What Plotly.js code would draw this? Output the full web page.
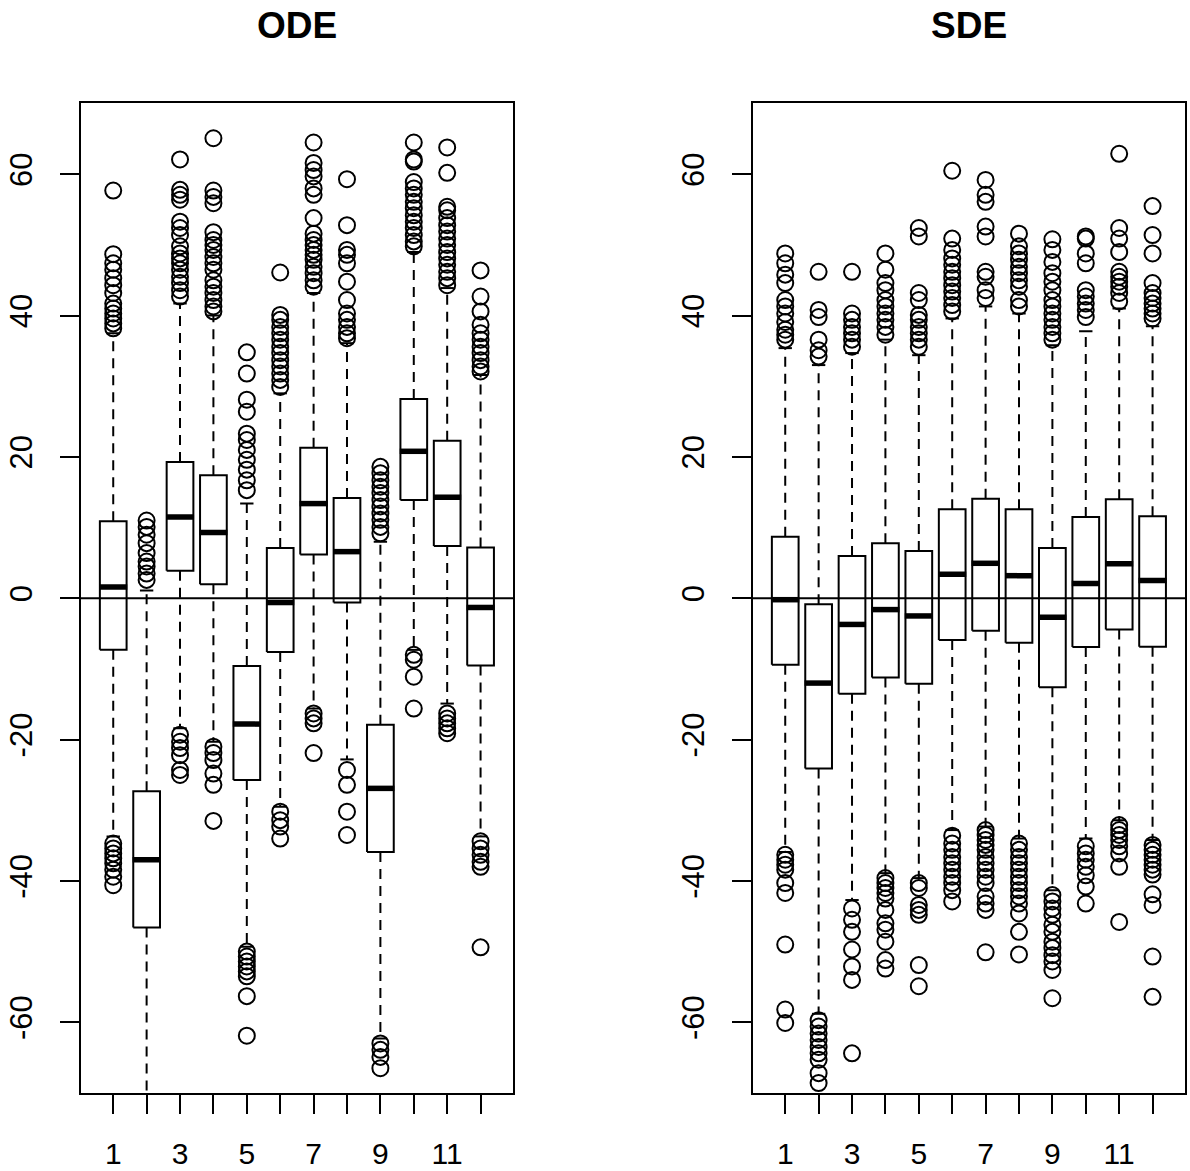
<!DOCTYPE html>
<html>
<head>
<meta charset="utf-8">
<script src="https://cdn.plot.ly/plotly-3.0.1.min.js"></script>
<style>html,body{margin:0;padding:0;background:#fff;}#chart{width:1190px;height:1171px;}</style>
</head>
<body>
<div id="chart"></div>
<script>
// ---------- DATA ----------
const categories = [1,2,3,4,5,6,7,8,9,10,11,12];
const xTickLabels = ["1","","3","","5","","7","","9","","11",""];
const yTickValues = [-60,-40,-20,0,20,40,60];
const panelTitles = ["ODE","SDE"];

// ODE panel
const odeQ1  = [-7.3, -46.6,  3.9,  2.0, -25.7, -7.6,  6.2, -0.6, -35.9, 13.9,  7.4, -9.5];
const odeMed = [ 1.6, -37.0, 11.5,  9.3, -17.8, -0.6, 13.4,  6.6, -26.9, 20.8, 14.3, -1.3];
const odeQ3  = [10.9, -27.3, 19.3, 17.4,  -9.6,  7.1, 21.3, 14.2, -17.9, 28.2, 22.3,  7.2];
const odeLo  = [-33.7, -75.0, -18.4, -20.3, -49.3, -29.5, -15.6, -22.8, -62.3, -7.3, -14.9, -33.7];
const odeHi  = [37.5,  1.1, 41.7, 40.0, 13.4, 29.0, 43.2, 36.1,  8.0, 49.0, 43.9, 31.6];
const odeOut = [
  [38.2,38.9,39.6,40.3,41.0,41.7,43.2,44.3,45.3,46.5,47.4,48.7,57.7,-34.7,-35.4,-36.1,-36.8,-37.5,-38.4,-39.4,-40.6],
  [2.6,3.5,4.5,5.2,6.4,7.8,9.0,10.1,11.0],
  [42.7,43.6,44.6,45.5,46.5,47.4,48.1,48.8,49.8,51.4,52.4,53.3,56.4,57.1,57.8,62.1,-19.3,-20.3,-21.2,-22.2,-24.3,-25.0],
  [40.6,41.3,42.2,43.2,44.1,45.0,46.5,47.4,48.3,49.3,50.0,50.7,51.8,55.9,56.8,57.7,65.1,-21.0,-21.9,-22.9,-24.8,-26.4,-31.5],
  [15.3,16.7,18.2,19.6,21.0,22.4,23.3,26.4,28.1,31.8,34.8,-50.0,-50.7,-51.4,-52.1,-52.8,-53.5,-56.3,-61.9],
  [29.9,30.9,31.8,32.8,33.7,34.7,35.6,36.6,37.5,38.4,39.4,40.1,46.1,-30.2,-31.4,-32.3,-34.0],
  [44.1,45.0,46.0,46.9,47.9,48.6,49.3,50.0,50.7,51.6,53.8,57.1,58.0,59.7,60.6,61.6,64.5,-16.3,-17.0,-17.7,-21.9],
  [36.8,37.5,38.4,39.4,40.3,42.2,44.8,47.4,48.6,49.3,52.8,59.3,-24.3,-26.4,-30.2,-33.5],
  [9.2,10.1,11.1,12.0,13.0,13.9,14.9,15.8,16.7,17.7,18.6,-63.0,-63.9,-64.9,-66.5],
  [49.8,50.5,51.4,52.4,53.3,54.2,55.2,56.1,57.1,58.0,58.9,61.8,62.1,64.5,-8.0,-8.7,-11.1,-15.6],
  [44.3,45.3,46.2,47.2,48.1,49.0,50.0,50.9,51.9,52.8,53.8,54.9,55.4,60.2,63.8,-16.3,-17.0,-17.7,-18.4,-19.1],
  [32.1,32.8,33.7,34.7,35.6,36.6,37.5,38.7,40.6,42.7,46.4,-34.4,-35.4,-36.3,-37.3,-38.0,-49.4]
];

// SDE panel
const sdeQ1  = [-9.4, -24.1, -13.5, -11.2, -12.1, -5.9, -4.6, -6.3, -12.6, -6.9, -4.4, -6.85];
const sdeMed = [-0.2, -12.0,  -3.7,  -1.6,  -2.5,  3.4,  4.95, 3.2,  -2.7,  2.1,  4.9,  2.5];
const sdeQ3  = [ 8.7,  -0.85,  6.0,   7.8,   6.7, 12.6, 14.1, 12.6,   7.1, 11.5, 14.0, 11.6];
const sdeLo  = [-35.9, -58.8, -42.7, -38.9, -39.6, -32.8, -32.3, -34.0, -41.3, -34.0, -31.4, -34.2];
const sdeHi  = [35.4, 33.0, 34.7, 36.6, 34.4, 39.6, 41.3, 40.3, 35.8, 37.8, 41.0, 38.5];
const sdeOut = [
  [36.6,37.3,38.0,39.1,40.3,41.3,42.2,44.6,45.8,47.4,48.8,-36.3,-37.0,-37.7,-38.4,-40.3,-41.7,-49.0,-58.2,-60.1],
  [34.2,35.1,36.6,39.8,40.8,46.2,-59.7,-60.6,-61.6,-62.5,-63.5,-64.4,-65.3,-67.2,-68.6],
  [35.6,36.6,37.5,38.4,39.4,40.3,46.2,-43.9,-45.5,-47.2,-49.7,-52.1,-54.0,-64.4],
  [37.3,38.4,39.4,40.3,41.3,42.2,43.6,44.6,46.5,48.8,-39.6,-40.3,-41.0,-41.7,-42.5,-44.1,-46.0,-46.9,-48.6,-51.2,-52.4],
  [35.6,36.6,37.5,38.4,39.4,40.1,42.2,43.2,51.2,52.4,-40.3,-41.0,-43.4,-44.1,-44.8,-51.9,-54.9],
  [40.6,41.5,42.5,43.4,44.3,45.3,46.2,47.2,48.1,49.3,50.9,60.5,-33.6,-34.7,-35.6,-36.6,-37.5,-38.4,-39.4,-40.3,-41.3,-42.9],
  [42.5,43.6,45.5,46.2,51.2,52.6,56.1,57.1,59.2,-32.8,-33.5,-34.2,-34.9,-35.6,-36.6,-37.5,-38.4,-39.4,-40.3,-42.2,-43.2,-44.1,-50.1],
  [41.3,42.2,44.1,45.0,46.0,46.9,47.9,48.8,49.8,51.6,-34.7,-35.6,-36.6,-37.5,-38.4,-39.4,-40.3,-41.3,-42.2,-43.2,-44.6,-47.2,-50.4],
  [36.6,37.5,38.4,39.4,40.3,41.3,42.2,43.6,44.8,46.0,47.6,49.3,50.8,-42.0,-42.9,-43.9,-44.8,-46.2,-47.2,-48.6,-49.5,-50.5,-51.4,-52.6,-56.6],
  [39.8,40.8,41.7,42.7,43.6,47.4,48.8,50.9,51.2,-35.1,-36.1,-37.0,-38.0,-39.2,-40.8,-43.2],
  [42.0,43.2,44.1,44.8,45.5,46.2,49.0,50.9,52.4,62.9,-32.1,-32.8,-33.5,-34.2,-35.1,-36.1,-38.0,-45.8],
  [39.6,40.3,41.0,41.7,42.5,43.2,44.6,48.8,51.4,55.5,-34.9,-35.6,-36.3,-37.0,-37.7,-38.4,-39.1,-41.9,-43.4,-50.7,-56.4]
];

// ---------- DRAWING ----------
const BOXHALF = 0.4, STAPLEHALF = 0.2;
const FONT = "Liberation Sans, Arial, Helvetica, sans-serif";

function panelTraces(q1, med, q3, lo, hi, out, xa, ya) {
  const bx = [], by = [], wx = [], wy = [], sx = [], sy = [], mx = [], my = [], ox = [], oy = [];
  categories.forEach((c, i) => {
    bx.push(c-BOXHALF, c+BOXHALF, c+BOXHALF, c-BOXHALF, c-BOXHALF, null);
    by.push(q1[i], q1[i], q3[i], q3[i], q1[i], null);
    wx.push(c, c, null, c, c, null);
    wy.push(q3[i], hi[i], null, q1[i], lo[i], null);
    sx.push(c-STAPLEHALF, c+STAPLEHALF, null, c-STAPLEHALF, c+STAPLEHALF, null);
    sy.push(hi[i], hi[i], null, lo[i], lo[i], null);
    mx.push(c-BOXHALF-0.02, c+BOXHALF+0.02, null);
    my.push(med[i], med[i], null);
    out[i].forEach(v => { ox.push(c); oy.push(v); });
  });
  const common = {xaxis: xa, yaxis: ya, hoverinfo: 'skip', showlegend: false};
  return [
    Object.assign({type:'scatter', mode:'lines', x:wx, y:wy, line:{color:'#000', width:2, dash:'10px,7px'}}, common),
    Object.assign({type:'scatter', mode:'lines', x:sx, y:sy, line:{color:'#000', width:2}}, common),
    Object.assign({type:'scatter', mode:'lines', x:bx, y:by, line:{color:'#000', width:2}}, common),
    Object.assign({type:'scatter', mode:'lines', x:mx, y:my, line:{color:'#000', width:5.5}}, common),
    Object.assign({type:'scatter', mode:'markers', x:ox, y:oy,
      marker:{symbol:'circle-open', size:16, color:'#000', line:{color:'#000', width:2}}}, common)
  ];
}

const data = [].concat(
  panelTraces(odeQ1, odeMed, odeQ3, odeLo, odeHi, odeOut, 'x', 'y'),
  panelTraces(sdeQ1, sdeMed, sdeQ3, sdeLo, sdeHi, sdeOut, 'x2', 'y2')
);

const W = 1190, H = 1171;
const yDom = [(H-1093.3)/H, (H-102.7)/H];
function xAxis(dom, anchor) {
  return {domain: dom, anchor: anchor, range: [0.02, 12.98], tickmode: 'array',
    tickvals: categories, ticktext: xTickLabels, ticks: 'outside', ticklen: 19, tickwidth: 2,
    tickcolor: '#000', showline: true, linecolor: '#000', linewidth: 2, mirror: true,
    showgrid: false, zeroline: false, tickfont: {family: FONT, size: 30, color: '#000'},
    ticklabelstandoff: 14, fixedrange: true};
}
function yAxis(anchor) {
  return {domain: yDom, anchor: anchor, range: [-70.05, 70.13], tickmode: 'array',
    tickvals: yTickValues, ticktext: yTickValues.map(String), tickangle: -90,
    ticks: 'outside', ticklen: 19, tickwidth: 2, tickcolor: '#000',
    showline: true, linecolor: '#000', linewidth: 2, mirror: true,
    showgrid: false, zeroline: false, tickfont: {family: FONT, size: 31, color: '#000'},
    ticklabelstandoff: 15, fixedrange: true};
}
const dom1 = [80.5/W, 513.3/W], dom2 = [752.5/W, 1185.3/W];
const layout = {
  width: W, height: H, margin: {l:0, r:0, t:0, b:0},
  paper_bgcolor: '#fff', plot_bgcolor: '#fff',
  xaxis: xAxis(dom1, 'y'), yaxis: yAxis('x'),
  xaxis2: xAxis(dom2, 'y2'), yaxis2: yAxis('x2'),
  shapes: [
    {type:'line', xref:'x domain', yref:'y', x0:0, x1:1, y0:0, y1:0, line:{color:'#000', width:2}},
    {type:'line', xref:'x2 domain', yref:'y2', x0:0, x1:1, y0:0, y1:0, line:{color:'#000', width:2}}
  ],
  annotations: panelTitles.map((t, k) => ({
    text: '<b>' + t + '</b>', xref: 'paper', yref: 'paper',
    x: (k === 0 ? (dom1[0]+dom1[1])/2 : (dom2[0]+dom2[1])/2), y: (H-25)/H,
    xanchor: 'center', yanchor: 'middle', showarrow: false,
    font: {family: FONT, size: 37, color: '#000'}
  }))
};
Plotly.newPlot('chart', data, layout, {staticPlot: true, displayModeBar: false});
</script>
</body>
</html>
